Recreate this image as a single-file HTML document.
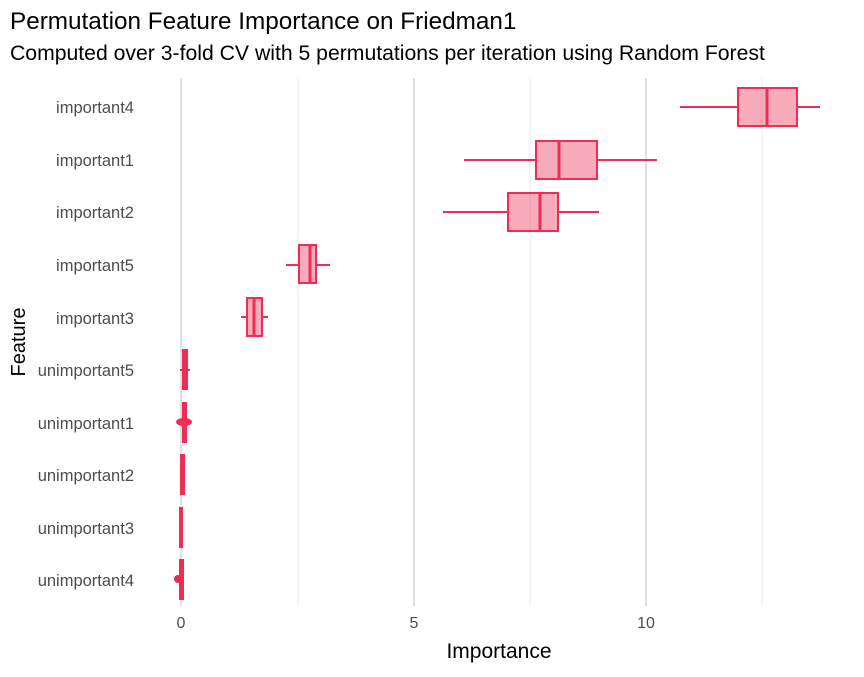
<!DOCTYPE html>
<html><head><style>body{margin:0;background:#fff}</style></head><body>
<svg width="864" height="672" xmlns="http://www.w3.org/2000/svg" font-family="Liberation Sans, sans-serif">
<text x="10" y="29" font-size="24.3" fill="#000">Permutation Feature Importance on Friedman1</text>
<text x="10" y="60" font-size="21.2" fill="#000">Computed over 3-fold CV with 5 permutations per iteration using Random Forest</text>
<g stroke="#ebebeb" stroke-width="1"><line x1="298" y1="78" x2="298" y2="606"/><line x1="530" y1="78" x2="530" y2="606"/><line x1="762" y1="78" x2="762" y2="606"/></g>
<g stroke="#e0e0e0" stroke-width="2"><line x1="181" y1="78" x2="181" y2="606"/><line x1="414" y1="78" x2="414" y2="606"/><line x1="646" y1="78" x2="646" y2="606"/></g>
<g font-size="16.5" fill="#4d4d4d" text-anchor="end">
<text x="134" y="113">important4</text><text x="134" y="166">important1</text><text x="134" y="218">important2</text><text x="134" y="271">important5</text><text x="134" y="324">important3</text><text x="134" y="376">unimportant5</text><text x="134" y="429">unimportant1</text><text x="134" y="481">unimportant2</text><text x="134" y="534">unimportant3</text><text x="134" y="586">unimportant4</text>
</g>
<g font-size="16" fill="#4d4d4d" text-anchor="middle"><text x="181" y="628">0</text><text x="414" y="628">5</text><text x="646" y="628">10</text></g>
<text x="499" y="658" font-size="21" text-anchor="middle">Importance</text>
<text transform="translate(25,342) rotate(-90)" font-size="20" text-anchor="middle">Feature</text>
<g stroke="#ee2c55" stroke-width="2" fill="rgba(238,44,85,0.4)">
<line x1="680" y1="107" x2="738" y2="107"/><line x1="797" y1="107" x2="820" y2="107"/><rect x="738" y="88" width="59" height="38"/><line x1="767" y1="88" x2="767" y2="126" stroke-width="3"/>
<line x1="464" y1="160" x2="536" y2="160"/><line x1="597" y1="160" x2="657" y2="160"/><rect x="536" y="141" width="61" height="38"/><line x1="559" y1="141" x2="559" y2="179" stroke-width="3"/>
<line x1="443" y1="212" x2="508" y2="212"/><line x1="558" y1="212" x2="599" y2="212"/><rect x="508" y="193" width="50" height="38"/><line x1="540" y1="193" x2="540" y2="231" stroke-width="3"/>
<line x1="286" y1="265" x2="299" y2="265"/><line x1="316" y1="265" x2="330" y2="265"/><rect x="299" y="245" width="17" height="38"/><line x1="310" y1="245" x2="310" y2="283" stroke-width="3"/>
<line x1="241" y1="317" x2="247" y2="317"/><line x1="262" y1="317" x2="268" y2="317"/><rect x="247" y="298" width="15" height="38"/><line x1="254" y1="298" x2="254" y2="336" stroke-width="3"/>
</g>
<g fill="#ee2c55">
<rect x="182" y="349" width="6" height="41"/><rect x="180" y="369" width="10" height="2"/>
<rect x="182" y="402" width="5" height="41"/><ellipse cx="184" cy="422" rx="8" ry="4"/>
<rect x="180" y="454" width="5" height="41"/>
<rect x="179" y="507" width="4" height="41"/>
<rect x="179" y="559" width="5" height="41"/><circle cx="178" cy="579" r="4"/>
</g>
</svg>
</body></html>
